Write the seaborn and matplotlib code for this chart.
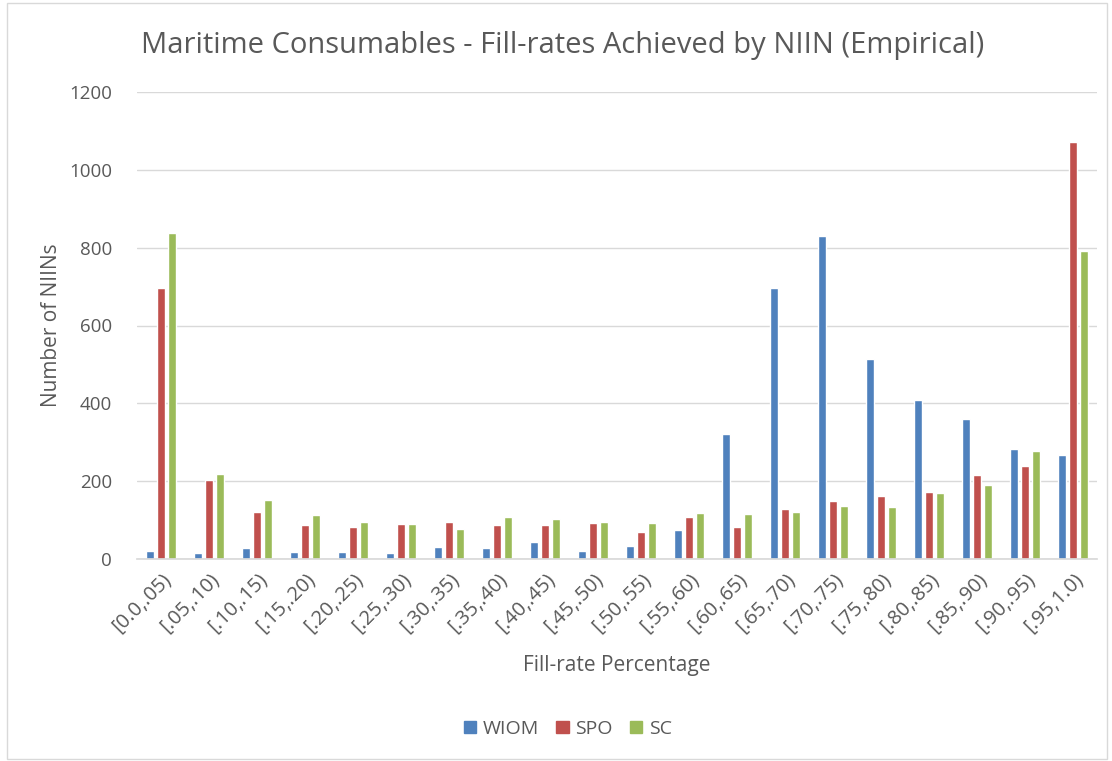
import matplotlib
matplotlib.use("Agg")
import matplotlib.pyplot as plt
import seaborn as sns
import pandas as pd
from matplotlib.patches import Rectangle

categories = ["[0.0,.05)", "[.05,.10)", "[.10,.15)", "[.15,.20)", "[.20,.25)",
              "[.25,.30)", "[.30,.35)", "[.35,.40)", "[.40,.45)", "[.45,.50)",
              "[.50,.55)", "[.55,.60)", "[.60,.65)", "[.65,.70)", "[.70,.75)",
              "[.75,.80)", "[.80,.85)", "[.85,.90)", "[.90,.95)", "[.95,1.0)"]
wiom = [21, 15, 27, 19, 19, 15, 31, 27, 43, 21, 34, 75, 321, 696, 831, 515, 408, 359, 283, 268]
spo = [696, 204, 122, 87, 81, 89, 94, 87, 87, 92, 69, 107, 83, 128, 148, 163, 172, 215, 239, 1072]
sc = [837, 219, 151, 112, 94, 89, 77, 107, 104, 94, 92, 118, 116, 122, 136, 134, 169, 191, 277, 791]
series_names = ["WIOM", "SPO", "SC"]
yticks = [0, 200, 400, 600, 800, 1000, 1200]

colors = ["#4F81BD", "#C0504D", "#9BBB59"]

df = pd.DataFrame({
    "cat": categories * 3,
    "series": [series_names[0]] * 20 + [series_names[1]] * 20 + [series_names[2]] * 20,
    "value": wiom + spo + sc,
})

sns.set_theme(style="white")
plt.rcParams["font.family"] = ["Open Sans", "DejaVu Sans"]

fig = plt.figure(figsize=(11.12, 7.61), dpi=100)
ax = fig.add_axes([137 / 1112, 1 - 559 / 761, 960 / 1112, 467 / 761])

sns.barplot(data=df, x="cat", y="value", hue="series", order=categories,
            hue_order=series_names, palette=colors, width=0.68, gap=0.2,
            saturation=1, ax=ax, legend=False, errorbar=None)

ax.set_ylim(0, 1200)
ax.set_xlim(-0.5, len(categories) - 0.5)
ax.set_yticks(yticks)
ax.set_yticklabels([str(t) for t in yticks], color="#595959", fontsize=13.5)
ax.yaxis.grid(True, color="#D9D9D9", linewidth=1)
ax.set_axisbelow(True)
for s in ["left", "right", "top"]:
    ax.spines[s].set_visible(False)
ax.spines["bottom"].set_color("#D9D9D9")
ax.tick_params(axis="both", length=0)
ax.tick_params(axis="y", pad=18)
ax.set_xticks(range(len(categories)))
ax.set_xticklabels(categories, rotation=45, ha="right", rotation_mode="anchor",
                   color="#595959", fontsize=14.5)
ax.tick_params(axis="x", pad=7)

ax.set_xlabel("Fill-rate Percentage", fontsize=15, color="#595959", labelpad=0)
ax.xaxis.label.set_va("center")
ax.xaxis.set_label_coords(0.5, -(666 - 559) / 467)
ax.set_ylabel("Number of NIINs", fontsize=15, color="#595959")
ax.yaxis.label.set_va("center")
ax.yaxis.set_label_coords(-(137 - 52) / 960, 0.5)

fig.text(563 / 1112, 1 - 45 / 761, "Maritime Consumables - Fill-rates Achieved by NIIN (Empirical)",
         ha="center", va="center", fontsize=21, color="#595959")

handles = [Rectangle((0, 0), 1, 1, color=c) for c in colors]
fig.legend(handles, series_names, loc="center", bbox_to_anchor=(568 / 1112, 1 - 729 / 761),
           ncol=3, frameon=False, fontsize=14, handlelength=0.62, handleheight=0.62,
           handletextpad=0.35, columnspacing=0.9, labelcolor="#595959",
           borderpad=0, borderaxespad=0)

fig.patches.append(Rectangle((7 / 1112, 2 / 761), 1100 / 1112, 756 / 761,
                             transform=fig.transFigure, fill=False,
                             edgecolor="#D9D9D9", linewidth=1))

fig.savefig("out.png", dpi=100, facecolor="white")
